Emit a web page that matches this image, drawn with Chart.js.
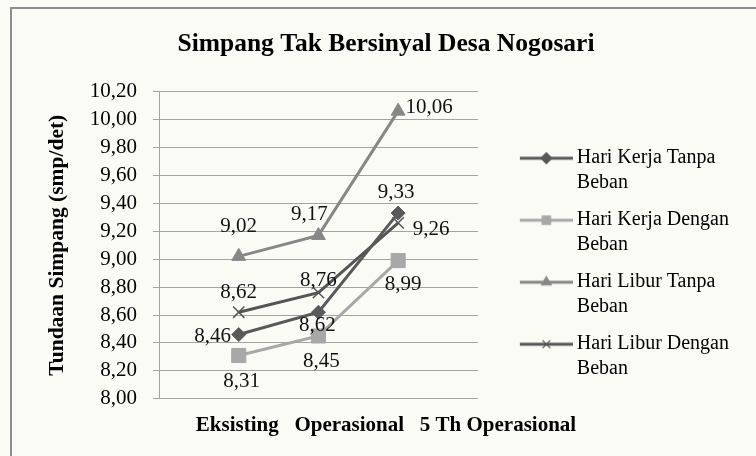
<!DOCTYPE html>
<html lang="id">
<head>
<meta charset="UTF-8">
<title>Simpang Tak Bersinyal Desa Nogosari</title>
<script src="https://cdn.jsdelivr.net/npm/chart.js@4.4.0/dist/chart.umd.min.js"></script>
<style>
    html, body { margin: 0; padding: 0; background: #fbfbf6; }
    #wrap { position: relative; width: 756px; height: 456px; overflow: hidden; }
    #frame { position: absolute; left: 10px; top: 7px; width: 800px; height: 500px; border: 2px solid #8e8e8e; }
    #lineChart { position: absolute; left: 0; top: 0; }
</style>
</head>
<body>
<div id="wrap">
    <div id="frame"></div>
    <canvas id="lineChart" width="756" height="456"></canvas>
</div>
<script>
// data
const categories = ['Eksisting', 'Operasional', '5 Th Operasional']
const kerjaTanpaBeban = [8.46, 8.62, 9.33]
const kerjaDenganBeban = [8.31, 8.45, 8.99]
const liburTanpaBeban = [9.02, 9.17, 10.06]
const liburDenganBeban = [8.62, 8.76, 9.26]
const yTicks = { min: 8, max: 10.2, step: 0.2 }

// where each value label sits relative to its point [dx, dy]
const shiftKerjaTanpa = [[-26, 2], [-1, 13], [-2, -21]]
const shiftKerjaDengan = [[3, 26], [3, 26], [5, 24]]
const shiftLiburTanpa = [[0, -30], [-9, -21], [31, -4]]
const shiftLiburDengan = [[0, -20], [0, -12], [33, 7]]

const serif = '"Liberation Serif", "Times New Roman", serif'
const fmt = v => v.toFixed(2).replace('.', ',')
const pad = arr => [null].concat(arr, [null])

function series(label, values, color, style, radius, shift) {
    return {
        label: label,
        data: pad(values),
        borderColor: color,
        backgroundColor: color,
        borderWidth: 3,
        lineTension: 0,
        pointStyle: style,
        pointRadius: radius,
        pointHoverRadius: radius,
        pointBackgroundColor: color,
        pointBorderColor: color,
        pointBorderWidth: style === 'crossRot' ? 1.5 : 1,
        labelShift: shift
    }
}

const datasets = [
    series('Hari Kerja Tanpa Beban', kerjaTanpaBeban, '#595959', 'rectRot', 7, shiftKerjaTanpa),
    series('Hari Kerja Dengan Beban', kerjaDenganBeban, '#a8a8a8', 'rect', 10, shiftKerjaDengan),
    series('Hari Libur Tanpa Beban', liburTanpaBeban, '#878787', 'triangle', 8, shiftLiburTanpa),
    series('Hari Libur Dengan Beban', liburDenganBeban, '#555555', 'crossRot', 8, shiftLiburDengan)
]

// legend symbol: short line with the marker in its middle
const iconW = 77
function legendIcon(ds) {
    let c = document.createElement('canvas')
    c.width = iconW + 12
    c.height = 16
    let g = c.getContext('2d')
    g.strokeStyle = ds.borderColor
    g.lineWidth = 3
    g.beginPath()
    g.moveTo(36, 8)
    g.lineTo(c.width, 8)
    g.stroke()
    g.fillStyle = ds.borderColor
    g.lineWidth = 1.2
    Chart.helpers.drawPoint(g, {
        pointStyle: ds.pointStyle,
        radius: ds.pointStyle === 'rect' ? 6 : 5.5,
        rotation: 0,
        borderWidth: 1.2
    }, (36 + c.width) / 2, 8)
    return c
}

const valueLabels = {
    id: 'valueLabels',
    afterDatasetsDraw(chart) {
        const ctx = chart.ctx
        ctx.save()
        ctx.font = '21px ' + serif
        ctx.fillStyle = '#111'
        ctx.textAlign = 'center'
        ctx.textBaseline = 'middle'
        chart.data.datasets.forEach(function(ds, i) {
            chart.getDatasetMeta(i).data.forEach(function(pt, j) {
                let v = ds.data[j]
                if (v === null) return
                let s = ds.labelShift[j - 1]
                ctx.fillText(fmt(v), pt.x + s[0], pt.y + s[1])
            })
        })
        ctx.restore()
    }
}

new Chart(document.getElementById('lineChart'), {
    type: 'line',
    data: {
        labels: [''].concat(categories, ['']),
        datasets: datasets
    },
    plugins: [valueLabels],
    options: {
        responsive: false,
        animation: false,
        layout: { padding: { left: 33, right: 17, top: 0, bottom: 0 } },
        scales: {
            x: {
                offset: false,
                grid: { display: false, drawTicks: false },
                ticks: { display: false },
                border: { display: false }
            },
            y: {
                min: yTicks.min,
                max: yTicks.max,
                ticks: {
                    stepSize: yTicks.step,
                    autoSkip: false,
                    color: '#000',
                    padding: 16,
                    font: { family: serif, size: 21 },
                    callback: v => fmt(v)
                },
                grid: { color: '#a3a3a3', tickLength: 6, lineWidth: 1 },
                border: { color: '#a3a3a3' },
                title: {
                    display: true,
                    text: 'Tundaan Simpang (smp/det)',
                    color: '#000',
                    font: { family: serif, size: 21.5, weight: 'bold' },
                    padding: { top: 12, bottom: 3 }
                }
            }
        },
        plugins: {
            title: {
                display: true,
                text: 'Simpang Tak Bersinyal Desa Nogosari',
                color: '#000',
                font: { family: serif, size: 25.5, weight: 'bold' },
                padding: { top: 29, bottom: 32 }
            },
            subtitle: {
                display: true,
                position: 'bottom',
                text: categories.join('   '),
                color: '#000',
                font: { family: serif, size: 21, weight: 'bold' },
                padding: { top: 14, bottom: 18 }
            },
            legend: {
                position: 'right',
                align: 'center',
                maxWidth: 400,
                // empty title only pushes the entries down
                title: { display: true, text: '', padding: { top: 62, bottom: 0 } },
                labels: {
                    usePointStyle: true,
                    pointStyleWidth: iconW,
                    padding: 12,
                    color: '#000',
                    font: { family: serif, size: 20, lineHeight: 1.25 },
                    generateLabels: function(chart) {
                        let items = Chart.defaults.plugins.legend.labels.generateLabels(chart)
                        items.forEach(function(item, i) {
                            let ds = chart.data.datasets[i]
                            let words = ds.label.split(' ')
                            item.text = [words.slice(0, -1).join(' '), words[words.length - 1]]
                            item.pointStyle = legendIcon(ds)
                        })
                        return items
                    }
                }
            },
            tooltip: { enabled: false }
        }
    }
})
</script>
</body>
</html>
